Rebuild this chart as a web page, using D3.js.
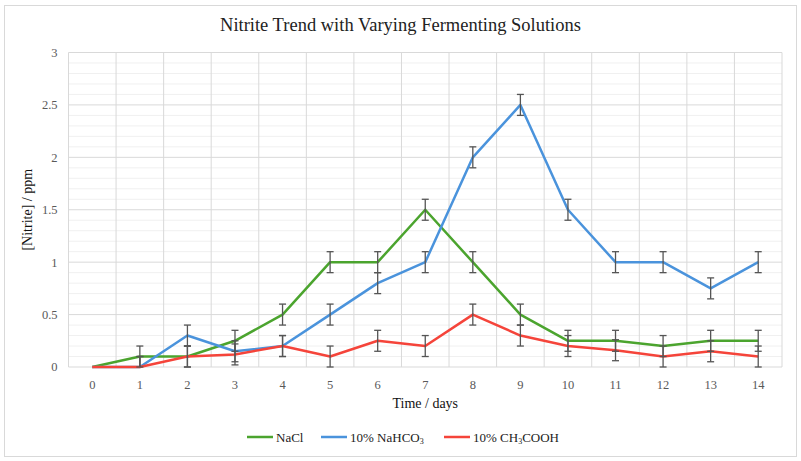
<!DOCTYPE html>
<html>
<head>
<meta charset="utf-8">
<script src="https://cdn.jsdelivr.net/npm/d3@7"></script>
<style>
  body { margin: 0; background: #fff; }
  svg text { font-family: "Liberation Serif", "Times New Roman", Times, "DejaVu Serif", serif; }
</style>
</head>
<body>
<div id="chart"></div>
<script>
// Data
const days = [0, 1, 2, 3, 4, 5, 6, 7, 8, 9, 10, 11, 12, 13, 14];
const nacl = [0, 0.1, 0.1, 0.25, 0.5, 1.0, 1.0, 1.5, 1.0, 0.5, 0.25, 0.25, 0.2, 0.25, 0.25];
const nahco3 = [0, 0, 0.3, 0.15, 0.2, 0.5, 0.8, 1.0, 2.0, 2.5, 1.5, 1.0, 1.0, 0.75, 1.0];
const ch3cooh = [0, 0, 0.1, 0.12, 0.2, 0.1, 0.25, 0.2, 0.5, 0.3, 0.2, 0.16, 0.1, 0.15, 0.1];
// error bar half-width per day (none shown on day 0)
const errors = [0, 0.1, 0.1, 0.1, 0.1, 0.1, 0.1, 0.1, 0.1, 0.1, 0.1, 0.1, 0.1, 0.1, 0.1];
const yTicks = [0, 0.5, 1, 1.5, 2, 2.5, 3];

const series = [
  { name: "NaCl", values: nacl, color: "#4ba42e" },
  { name: "10% NaHCO", sub: "3", values: nahco3, color: "#4a93dc" },
  { name: "10% CH", sub: "3", rest: "COOH", values: ch3cooh, color: "#f5443a" }
];

const width = 801, height = 461;
const margin = { top: 52.5, right: 19, bottom: 94, left: 68.5 };
const serif = '"Liberation Serif", "Times New Roman", serif';

const svg = d3.select("#chart").append("svg")
  .attr("width", width)
  .attr("height", height)
  .attr("font-family", serif);

// outer chart frame
svg.append("rect")
  .attr("x", 4.5).attr("y", 5.5)
  .attr("width", 792).attr("height", 451)
  .attr("fill", "#fff")
  .attr("stroke", "#d9d9d9");

const x = d3.scaleBand()
  .domain(days)
  .range([margin.left, width - margin.right]);

const y = d3.scaleLinear()
  .domain([0, 3])
  .range([height - margin.bottom, margin.top]);

const cx = d => x(d) + x.bandwidth() / 2;

// minor horizontal grid
svg.append("g")
  .selectAll("line")
  .data(d3.range(0, 3.001, 0.1).filter(v => Math.abs(v * 2 - Math.round(v * 2)) > 1e-6))
  .enter().append("line")
  .attr("x1", margin.left).attr("x2", width - margin.right)
  .attr("y1", d => y(d)).attr("y2", d => y(d))
  .attr("stroke", "#f0f0f0")
  .attr("stroke-width", 1);

// major horizontal grid
svg.append("g")
  .selectAll("line")
  .data(yTicks)
  .enter().append("line")
  .attr("x1", margin.left).attr("x2", width - margin.right)
  .attr("y1", d => y(d)).attr("y2", d => y(d))
  .attr("stroke", "#d9d9d9")
  .attr("stroke-width", 1);

// vertical grid at category boundaries
const bounds = days.map(d => x(d)).concat([x(days[days.length - 1]) + x.bandwidth()]);
svg.append("g")
  .selectAll("line")
  .data(bounds)
  .enter().append("line")
  .attr("x1", d => d).attr("x2", d => d)
  .attr("y1", y(3)).attr("y2", y(0))
  .attr("stroke", "#d9d9d9")
  .attr("stroke-width", 1);

// y tick labels
svg.append("g")
  .selectAll("text")
  .data(yTicks)
  .enter().append("text")
  .attr("x", margin.left - 11)
  .attr("y", d => y(d))
  .attr("dy", "0.35em")
  .attr("text-anchor", "end")
  .attr("font-size", 12.5)
  .attr("fill", "#595959")
  .text(d => d);

// x tick labels
svg.append("g")
  .selectAll("text")
  .data(days)
  .enter().append("text")
  .attr("x", d => cx(d))
  .attr("y", y(0) + 22)
  .attr("text-anchor", "middle")
  .attr("font-size", 12.5)
  .attr("fill", "#595959")
  .text(d => d);

// title and axis titles
svg.append("text")
  .attr("x", width / 2).attr("y", 31)
  .attr("text-anchor", "middle")
  .attr("font-size", 18.5)
  .attr("fill", "#222")
  .text("Nitrite Trend with Varying Fermenting Solutions");

svg.append("text")
  .attr("x", (margin.left + width - margin.right) / 2)
  .attr("y", 408)
  .attr("text-anchor", "middle")
  .attr("font-size", 14)
  .attr("fill", "#111")
  .text("Time / days");

svg.append("text")
  .attr("transform", `translate(32,${(y(0) + y(3)) / 2}) rotate(-90)`)
  .attr("text-anchor", "middle")
  .attr("font-size", 14)
  .attr("fill", "#111")
  .text("[Nitrite] / ppm");

// lines
const line = d3.line()
  .x((d, i) => cx(days[i]))
  .y(d => y(d));

svg.append("g")
  .selectAll("path")
  .data(series)
  .enter().append("path")
  .attr("d", d => line(d.values))
  .attr("fill", "none")
  .attr("stroke", d => d.color)
  .attr("stroke-width", 2.5)
  .attr("stroke-linejoin", "round");

// error bars
const errG = svg.append("g")
  .attr("stroke", "#555")
  .attr("stroke-width", 1.3);

series.forEach(s => {
  s.values.forEach((v, i) => {
    const e = errors[i];
    if (!e) return;
    const px = cx(days[i]);
    const lo = y(Math.max(0, v - e));
    const hi = y(Math.min(3, v + e));
    errG.append("line")
      .attr("x1", px).attr("x2", px)
      .attr("y1", lo).attr("y2", hi);
    errG.append("line")
      .attr("x1", px - 3.5).attr("x2", px + 3.5)
      .attr("y1", hi).attr("y2", hi);
    if (v - e >= 0) {
      errG.append("line")
        .attr("x1", px - 3.5).attr("x2", px + 3.5)
        .attr("y1", lo).attr("y2", lo);
    }
  });
});

// legend
const legendX = [247, 321, 444];
const legend = svg.append("g")
  .selectAll("g")
  .data(series)
  .enter().append("g")
  .attr("transform", (d, i) => `translate(${legendX[i]}, 437)`);

legend.append("line")
  .attr("x1", 0).attr("x2", 26)
  .attr("y1", 0).attr("y2", 0)
  .attr("stroke", d => d.color)
  .attr("stroke-width", 2.5);

const lt = legend.append("text")
  .attr("x", 29)
  .attr("y", 0)
  .attr("dy", "0.35em")
  .attr("font-size", 13)
  .attr("fill", "#222");

lt.append("tspan").text(d => d.name);
lt.filter(d => d.sub).append("tspan")
  .attr("font-size", 8)
  .attr("dy", 2)
  .text(d => d.sub);
lt.filter(d => d.rest).append("tspan")
  .attr("dy", -2)
  .text(d => d.rest);
</script>
</body>
</html>
